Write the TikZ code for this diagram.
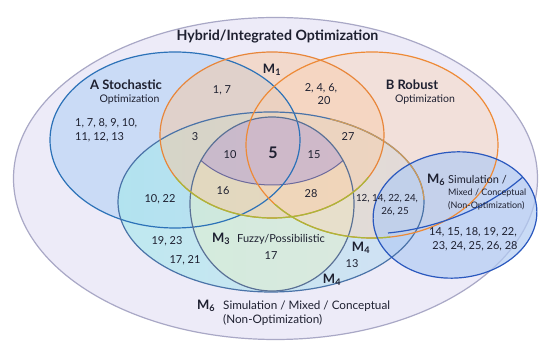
\documentclass[tikz,border=0pt]{standalone}
\usepackage{fontspec}
\setmainfont{Lato}
\definecolor{txt}{HTML}{1E2030}
\definecolor{outerfill}{HTML}{EDEBF8}
\definecolor{outerline}{HTML}{A9A8C6}
\definecolor{Afill}{HTML}{C2D8F6}
\definecolor{Aline}{HTML}{2C72B8}
\definecolor{Tleft}{HTML}{A6E8EC}
\definecolor{Tmid}{HTML}{D9F1C4}
\definecolor{Tright}{HTML}{C4DCF2}
\definecolor{Tline}{HTML}{4A73A8}
\definecolor{Tlinewarm}{HTML}{CF9A58}
\definecolor{Mthreefill}{HTML}{E9F2C6}
\definecolor{Mthreeline}{HTML}{5A7196}
\definecolor{Monefill}{HTML}{F7C9A2}
\definecolor{Moneline}{HTML}{E8863A}
\definecolor{Bfill}{HTML}{FAD3B6}
\definecolor{Bline}{HTML}{EE8A36}
\definecolor{limeline}{HTML}{A9B83A}
\definecolor{lensfill}{HTML}{B6A3D6}
\definecolor{lensline}{HTML}{6C6A9C}
\definecolor{Msixfill}{HTML}{B3CCF3}
\definecolor{Msixline}{HTML}{2A58BE}
\begin{document}
\begin{tikzpicture}[x=1pt,y=-1pt,
  num/.style={font=\fontsize{11}{12}\selectfont, text=txt, inner sep=0pt},
  big/.style={font=\fontsize{16}{17}\selectfont\bfseries, text=txt, inner sep=0pt},
  head/.style={font=\fontsize{13}{14}\selectfont\bfseries, text=txt, inner sep=0pt},
  sub/.style={font=\fontsize{10.5}{12}\selectfont, text=txt, inner sep=0pt},
  small/.style={font=\fontsize{9}{10}\selectfont, text=txt, inner sep=0pt},
  ring/.style={line width=1.2pt}]
\useasboundingbox (0,0) rectangle (550,352);
\fill[white] (0,0) rectangle (550,352);
% outer set
\path[fill=outerfill, draw=outerline, ring] (275.5,178.5) ellipse [x radius=262pt, y radius=161pt];
% fills
\fill[Afill, fill opacity=0.8] (175,140) ellipse [x radius=125pt, y radius=88pt];
\shade[left color=Tleft, middle color=Tmid, right color=Tright, fill opacity=0.65] (271,202) ellipse [x radius=153pt, y radius=90pt];
\fill[Mthreefill, fill opacity=0.45] (272,204) ellipse [x radius=82pt, y radius=87pt];
\fill[Monefill, fill opacity=0.5] (272,135) ellipse [x radius=112pt, y radius=83pt];
\fill[Bfill, fill opacity=0.45] (372,145) ellipse [x radius=126pt, y radius=93pt];
\begin{scope}
  \clip (272,204) ellipse [x radius=82pt, y radius=87pt];
  \fill[lensfill, fill opacity=0.55] (272,125) ellipse [x radius=88pt, y radius=60pt];
  \draw[lensline, line width=1pt] (272,125) ellipse [x radius=88pt, y radius=60pt];
\end{scope}
\fill[Msixfill, fill opacity=0.7, rotate around={5:(455,215)}] (455,215) ellipse [x radius=82pt, y radius=63pt];
% outlines
\draw[Aline, ring] (175,140) ellipse [x radius=125pt, y radius=88pt];
\draw[Tline, ring] (271,202) ellipse [x radius=153pt, y radius=90pt];
\begin{scope}
  \clip (330,100) rectangle (440,200);
  \draw[Tlinewarm, ring] (271,202) ellipse [x radius=153pt, y radius=90pt];
\end{scope}
\draw[Mthreeline, ring] (272,204) ellipse [x radius=82pt, y radius=87pt];
\draw[Moneline, ring] (272,135) ellipse [x radius=112pt, y radius=83pt];
\draw[Bline, ring] (372,145) ellipse [x radius=126pt, y radius=93pt];
\begin{scope}
  \clip (150,178) rectangle (370,240);
  \draw[limeline, ring] (272,135) ellipse [x radius=112pt, y radius=83pt];
\end{scope}
\begin{scope}
  \clip (250,205) rectangle (390,245);
  \draw[limeline, ring] (372,145) ellipse [x radius=126pt, y radius=93pt];
\end{scope}
\draw[Msixline, ring, rotate around={5:(455,215)}] (455,215) ellipse [x radius=82pt, y radius=63pt];
\coordinate (arcS) at (388,233);
\coordinate (arcE) at (540,160);
\begin{scope}
  \clip[rotate around={5:(455,215)}] (455,215) ellipse [x radius=82pt, y radius=63pt];
  \draw[Msixline, ring] (arcS) .. controls (440,228) and (500,205) .. (arcE);
\end{scope}
% labels
\node[head, font=\fontsize{14.2}{16}\selectfont\bfseries] (title) at (277.5,37) {Hybrid/Integrated Optimization};
\node[head] (Ahead) at (126,85) {A Stochastic};
\node[sub] (Aopt) at (129.5,100) {Optimization};
\node[num, anchor=west] (An1) at (75,123) {1, 7, 8, 9, 10,};
\node[num, anchor=west] (An2) at (75,137) {11, 12, 13};
\node[head] (M1) at (272,70) {M\textsubscript{1}};
\node[num] (n17) at (222,90) {1, 7};
\node[num] (n246) at (321,88) {2, 4, 6,};
\node[num] (n20) at (324,101) {20};
\node[head] (Bhead) at (412,85) {B Robust};
\node[sub] (Bopt) at (425,100) {Optimization};
\node[num] (n3) at (195,137) {3};
\node[num] (n10) at (230,155) {10};
\node[big] (n5) at (273,153) {5};
\node[num] (n15) at (314,155) {15};
\node[num] (n27) at (348,137) {27};
\node[num] (n16) at (223,191) {16};
\node[num] (n28) at (311,194) {28};
\node[num] (n1022) at (160,199) {10, 22};
\node[num] (n1923) at (167,241) {19, 23};
\node[num] (n1721) at (185,260) {17, 21};
\node[head, anchor=west] (M3) at (212,239) {M\textsubscript{3}};
\node[small, font=\fontsize{11}{12}\selectfont, anchor=west] (fuzzy) at (237,239) {Fuzzy/Possibilistic};
\node[num] (n17b) at (271,256) {17};
\node[head] (M4a) at (361,248) {M\textsubscript{4}};
\node[num] (n13) at (352,264) {13};
\node[head] (M4b) at (332,280) {M\textsubscript{4}};
\node[small, font=\fontsize{9.8}{11}\selectfont] (n12a) at (387,199) {12, 14, 22, 24,};
\node[small, font=\fontsize{9.8}{11}\selectfont] (n12b) at (395,212) {26, 25};
\node[head, anchor=west] (M6r) at (427,180) {M\textsubscript{6}};
\node[sub, font=\fontsize{11}{12}\selectfont, anchor=west] (simr) at (448,180) {Simulation /};
\node[small, anchor=west] (mixr) at (448,193) {Mixed / Conceptual};
\node[small, anchor=west] (nonr) at (448,206) {(Non-Optimization)};
\node[num] (r1) at (473,232) {14, 15, 18, 19, 22,};
\node[num] (r2) at (475,246) {23, 24, 25, 26, 28};
\node[head, anchor=west] (M6b) at (197,306) {M\textsubscript{6}};
\node[sub, font=\fontsize{11.7}{13}\selectfont, anchor=west] (simb) at (223,306) {Simulation / Mixed / Conceptual};
\node[sub, font=\fontsize{11.7}{13}\selectfont, anchor=west] (nonb) at (223,320) {(Non-Optimization)};
\end{tikzpicture}
\end{document}
